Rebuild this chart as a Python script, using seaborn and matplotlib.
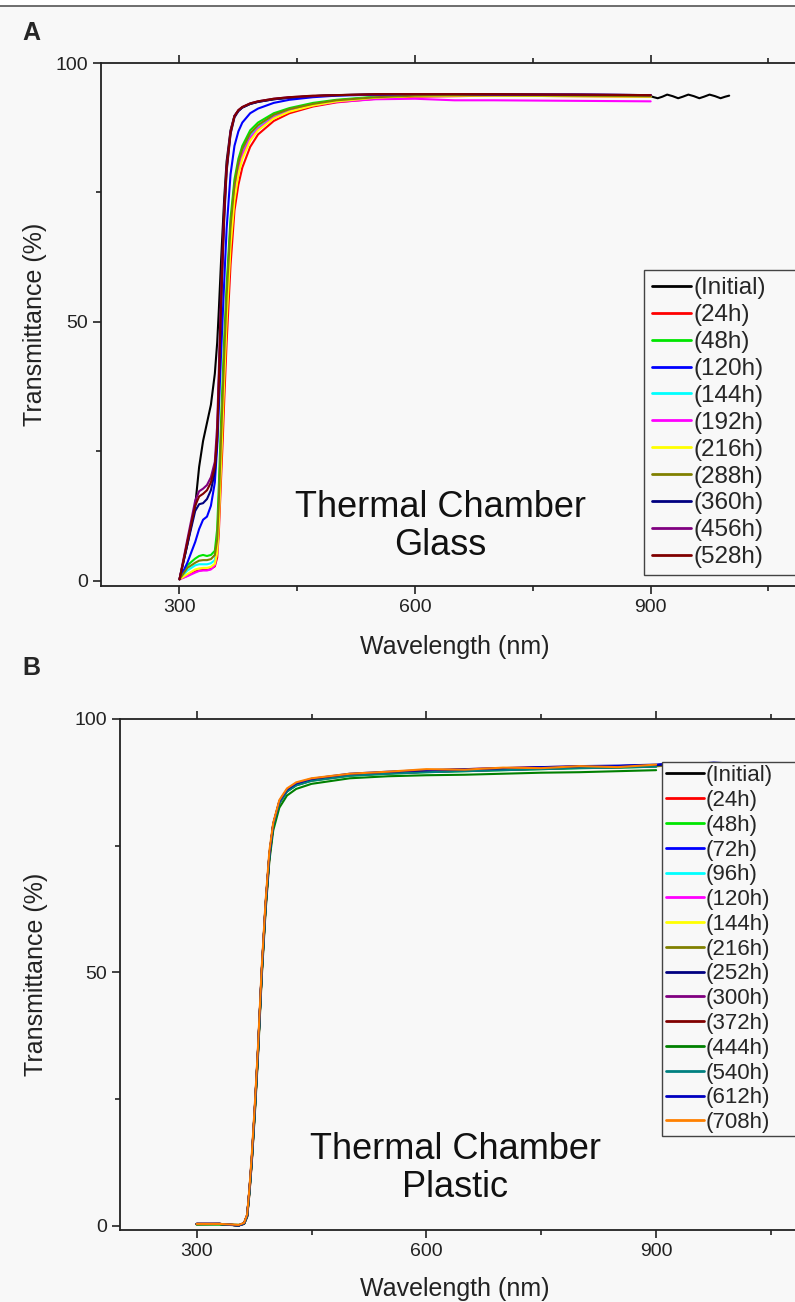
import matplotlib
matplotlib.use("Agg")
import numpy as np
import pandas as pd
import matplotlib.pyplot as plt
import seaborn as sns
from matplotlib.lines import Line2D
from matplotlib.patches import Rectangle

# ---------------- Panel A (Glass) data ----------------
wl_a = [300, 310, 320, 325, 330, 335, 340, 345, 348, 350, 353, 355, 357, 360, 365,
        370, 375, 380, 390, 400, 420, 440, 470, 500, 550, 600, 650, 700, 800, 900]
initial_a = [0.3, 7, 14.5, 22, 27, 30.5, 34, 40, 46, 52, 62, 68, 74, 81, 87,
             89.8, 90.8, 91.4, 92.1, 92.5, 93.0, 93.3, 93.6, 93.8, 93.9, 94.0, 94.0, 93.9, 93.8, 93.6]
initial_a_tail_wl = [904, 909, 915, 921, 928, 935, 941, 948, 955, 962, 968, 975, 982, 989, 995, 1000]
initial_a_tail = [93.4, 93.2, 93.5, 93.9, 93.6, 93.2, 93.5, 93.9, 93.6, 93.2, 93.5, 93.9, 93.6, 93.2, 93.5, 93.7]
h24_a = [0.3, 1.0, 1.8, 2.0, 2.1, 2.1, 2.3, 2.8, 4.5, 9, 20, 27, 35, 46, 61,
         71.5, 76.5, 79.8, 83.8, 86.2, 88.8, 90.3, 91.6, 92.4, 93.1, 93.5, 93.6, 93.7, 93.6, 93.5]
h48_a = [0.3, 3.0, 4.3, 4.8, 5.0, 4.8, 5.0, 5.8, 10, 18, 31, 39, 47, 57, 70,
         77.5, 81.5, 84.0, 87.0, 88.5, 90.3, 91.3, 92.3, 92.9, 93.5, 93.8, 93.9, 93.9, 93.8, 93.7]
h120_a = [0.3, 3.5, 7.5, 10, 11.8, 12.4, 14.5, 19, 26, 33, 44, 51, 58, 68, 78.5,
          84, 86.8, 88.5, 90.3, 91.2, 92.3, 92.9, 93.4, 93.7, 93.9, 93.9, 94.0, 93.9, 93.9, 93.8]
h144_a = [0.3, 2.0, 3.0, 3.2, 3.2, 3.2, 3.4, 4.0, 7, 13, 26, 34, 42, 53, 67,
          75.5, 80.0, 82.8, 85.9, 87.6, 89.7, 90.9, 92.0, 92.7, 93.4, 93.7, 93.8, 93.8, 93.7, 93.6]
h192_a = [0.3, 0.9, 1.6, 1.9, 2.0, 2.0, 2.2, 3.0, 5.5, 12, 25, 33, 41, 52, 66,
          75, 79.5, 82.3, 85.5, 87.3, 89.5, 90.7, 91.8, 92.5, 93.0, 93.1, 92.8, 92.8, 92.7, 92.6]
h216_a = [0.3, 1.3, 2.2, 2.4, 2.5, 2.5, 2.7, 3.3, 5.5, 11, 23, 31, 39, 50, 64.5,
          73.5, 78.5, 81.5, 85.0, 87.0, 89.3, 90.6, 91.8, 92.6, 93.3, 93.6, 93.7, 93.7, 93.6, 93.5]
h288_a = [0.3, 2.5, 3.5, 3.9, 4.0, 4.0, 4.2, 5.0, 8, 15, 28, 36, 44, 55, 68.5,
          76.5, 80.8, 83.4, 86.4, 88.0, 90.0, 91.1, 92.1, 92.8, 93.4, 93.7, 93.8, 93.8, 93.7, 93.6]
h360_a = [0.3, 7.0, 13.5, 14.8, 15.0, 15.8, 17.5, 21, 27, 37, 53, 62, 70, 79, 86.3,
          89.5, 90.7, 91.4, 92.1, 92.5, 93.0, 93.3, 93.6, 93.8, 93.9, 94.0, 94.0, 93.9, 93.9, 93.8]
h456_a = [0.3, 8.0, 15.5, 17.3, 17.8, 18.5, 20.0, 23, 30, 40, 56, 64, 72, 80, 86.8,
          89.8, 90.9, 91.5, 92.2, 92.6, 93.1, 93.4, 93.6, 93.8, 93.9, 94.0, 94.0, 93.9, 93.9, 93.8]
h528_a = [0.3, 7.5, 14.5, 16.3, 16.8, 17.5, 19.0, 22, 28, 38, 54, 63, 71, 79.5, 86.5,
          89.7, 90.9, 91.5, 92.2, 92.6, 93.1, 93.4, 93.7, 93.8, 94.0, 94.0, 94.0, 94.0, 93.9, 93.8]

labels_a = ["(Initial)", "(24h)", "(48h)", "(120h)", "(144h)", "(192h)", "(216h)",
            "(288h)", "(360h)", "(456h)", "(528h)"]
colors_a = ["#000000", "#ff0000", "#00e600", "#0000ff", "#00ffff", "#ff00ff", "#ffff00",
            "#808000", "#000080", "#800080", "#800000"]

# ---------------- Panel B (Plastic) data ----------------
wl_b = [300, 330, 355, 362, 366, 369, 372, 376, 380, 385, 390, 395, 400, 408, 418,
        430, 450, 500, 550, 600, 650, 700, 750, 800, 850, 900]
wl_b_ext = [925, 950, 975, 1000]
initial_b = [0.4, 0.4, 0.1, 0.5, 2.0, 7.0, 13, 23, 34, 50, 63, 73, 79, 83.5, 85.8,
             87.0, 87.9, 88.9, 89.3, 89.6, 89.8, 90.0, 90.2, 90.4, 90.5, 90.7]
initial_b_ext = [90.8, 91.0, 90.9, 91.1]
h24_b = [0.3, 0.4, 0.1, 0.4, 1.8, 6.5, 12.5, 22.5, 33.5, 49.5, 62.5, 72.5, 78.8, 83.4, 85.9,
         87.1, 88.0, 89.0, 89.5, 89.8, 90.1, 90.3, 90.5, 90.6, 90.7, 90.8]
h48_b = [0.4, 0.3, 0.2, 0.5, 2.0, 7.0, 13, 23, 34, 50, 63, 73, 79, 83.4, 85.7,
         86.9, 87.8, 88.8, 89.2, 89.5, 89.7, 89.9, 90.1, 90.3, 90.4, 90.6]
h72_b = [0.4, 0.4, 0.2, 0.5, 2.1, 7.2, 13.2, 23.2, 34.2, 50.2, 63.2, 73.2, 79.2, 83.7, 86.0,
         87.2, 88.1, 89.1, 89.5, 89.8, 90.0, 90.2, 90.4, 90.6, 90.7, 90.9]
h72_b_ext = [91.2, 91.0, 91.3, 91.1]
h96_b = [0.3, 0.4, 0.1, 0.5, 2.0, 7.0, 13, 23, 34, 50, 63, 73, 79, 83.5, 85.9,
         87.1, 88.0, 89.0, 89.4, 89.7, 89.9, 90.1, 90.3, 90.5, 90.6, 90.8]
h96_b_ext = [91.0, 90.8, 91.1, 91.0]
h120_b = [0.4, 0.4, 0.1, 0.5, 1.9, 6.8, 12.8, 22.8, 33.8, 49.8, 62.8, 72.8, 78.9, 83.4, 85.8,
          87.0, 87.9, 88.9, 89.3, 89.6, 89.8, 90.0, 90.2, 90.4, 90.6, 90.8]
h120_b_ext = [90.6, 91.1, 90.7, 91.2]
h144_b = [0.4, 0.4, 0.2, 0.5, 2.0, 7.0, 13, 23, 34, 50, 63, 73, 79, 83.5, 85.8,
          87.0, 87.9, 88.9, 89.4, 89.7, 89.9, 90.1, 90.3, 90.4, 90.6, 90.7]
h216_b = [0.3, 0.4, 0.1, 0.5, 2.0, 7.0, 13, 23, 34, 50, 63, 73, 79, 83.5, 85.8,
          87.0, 87.9, 88.9, 89.3, 89.6, 89.8, 90.0, 90.2, 90.4, 90.5, 90.7]
h216_b_ext = [90.9, 91.0, 91.0, 91.1]
h252_b = [0.4, 0.4, 0.1, 0.5, 2.1, 7.1, 13.1, 23.1, 34.1, 50.1, 63.1, 73.1, 79.1, 83.6, 86.0,
          87.2, 88.1, 89.1, 89.5, 89.8, 90.0, 90.2, 90.4, 90.6, 90.7, 90.9]
h252_b_ext = [91.1, 91.2, 91.0, 91.2]
h300_b = [0.4, 0.4, 0.1, 0.5, 2.0, 7.0, 13, 23, 34, 50, 63, 73, 79, 83.5, 85.8,
          87.0, 87.9, 88.9, 89.3, 89.6, 89.8, 90.0, 90.2, 90.4, 90.5, 90.7]
h372_b = [0.4, 0.4, 0.1, 0.6, 2.2, 7.3, 13.5, 23.5, 34.5, 50.5, 63.5, 73.3, 79.2, 83.6, 85.9,
          87.1, 88.0, 89.0, 89.4, 89.7, 89.9, 90.1, 90.3, 90.5, 90.6, 90.8]
h444_b = [0.3, 0.3, 0.1, 0.4, 1.8, 6.5, 12.5, 22, 33, 49, 62, 72, 78, 82.5, 84.9,
          86.2, 87.2, 88.3, 88.7, 88.9, 89.0, 89.2, 89.4, 89.5, 89.7, 89.9]
h540_b = [0.4, 0.4, 0.1, 0.5, 2.0, 7.0, 13, 23, 34, 50, 63, 73, 79, 83.4, 85.7,
          86.9, 87.8, 88.8, 89.2, 89.5, 89.7, 89.9, 90.1, 90.3, 90.4, 90.6]
h612_b = [0.4, 0.4, 0.1, 0.5, 2.1, 7.2, 13.3, 23.3, 34.3, 50.3, 63.3, 73.3, 79.3, 83.8, 86.1,
          87.3, 88.2, 89.2, 89.6, 89.9, 90.1, 90.3, 90.5, 90.7, 90.8, 91.0]
h612_b_ext = [91.3, 91.1, 91.4, 91.2]
h708_b = [0.4, 0.4, 0.2, 0.6, 2.3, 7.5, 14, 24, 35, 51, 64, 74, 79.5, 84.0, 86.3,
          87.5, 88.3, 89.2, 89.6, 90.1, 90.0, 90.4, 90.3, 90.7, 90.5, 91.0]

labels_b = ["(Initial)", "(24h)", "(48h)", "(72h)", "(96h)", "(120h)", "(144h)", "(216h)",
            "(252h)", "(300h)", "(372h)", "(444h)", "(540h)", "(612h)", "(708h)"]
colors_b = ["#000000", "#ff0000", "#00e600", "#0000ff", "#00ffff", "#ff00ff", "#ffff00",
            "#808000", "#000080", "#800080", "#800000", "#008000", "#008080", "#0000c0", "#ff8000"]

# ---------------- figure ----------------
sns.set_style("ticks")
plt.rcParams["font.family"] = ["Liberation Sans", "DejaVu Sans"]
BG = "#f8f8f8"
INK = "#222222"

fig = plt.figure(figsize=(7.95, 13.02), dpi=100, facecolor=BG)
axA = fig.add_axes([0.127, 0.5499, 0.889, 0.4017])
axB = fig.add_axes([0.151, 0.0553, 0.867, 0.3925])

series_a = [
    (wl_a + initial_a_tail_wl, initial_a + initial_a_tail),
    (wl_a, h24_a), (wl_a, h48_a), (wl_a, h120_a), (wl_a, h144_a), (wl_a, h192_a),
    (wl_a, h216_a), (wl_a, h288_a), (wl_a, h360_a), (wl_a, h456_a), (wl_a, h528_a),
]
for (x, y), lab, c in zip(series_a, labels_a, colors_a):
    sns.lineplot(x=x, y=y, color=c, label=lab, ax=axA, lw=1.5, sort=False, estimator=None)

series_b = [
    (wl_b + wl_b_ext, initial_b + initial_b_ext),
    (wl_b, h24_b), (wl_b, h48_b),
    (wl_b + wl_b_ext, h72_b + h72_b_ext),
    (wl_b + wl_b_ext, h96_b + h96_b_ext),
    (wl_b + wl_b_ext, h120_b + h120_b_ext),
    (wl_b, h144_b),
    (wl_b + wl_b_ext, h216_b + h216_b_ext),
    (wl_b + wl_b_ext, h252_b + h252_b_ext),
    (wl_b, h300_b), (wl_b, h372_b), (wl_b, h444_b), (wl_b, h540_b),
    (wl_b + wl_b_ext, h612_b + h612_b_ext),
    (wl_b, h708_b),
]
for (x, y), lab, c in zip(series_b, labels_b, colors_b):
    sns.lineplot(x=x, y=y, color=c, label=lab, ax=axB, lw=1.5, sort=False, estimator=None)


def style(ax, ybottom):
    ax.set_facecolor(BG)
    ax.set_xlim(200, 1100)
    ax.set_ylim(ybottom, 100)
    ax.set_xticks([300, 600, 900])
    ax.set_xticks([450, 750, 1050], minor=True)
    ax.set_yticks([0, 50, 100])
    ax.set_yticks([25, 75], minor=True)
    ax.tick_params(which="both", direction="out", top=True, bottom=True, left=True,
                   right=False, labeltop=False, width=1.2, color=INK)
    ax.tick_params(which="major", length=6, labelsize=14, labelcolor=INK)
    ax.tick_params(which="minor", length=3.5)
    for s in ax.spines.values():
        s.set_linewidth(1.3)
        s.set_color(INK)
    ax.set_xlabel("Wavelength (nm)", fontsize=18, color=INK)
    ax.set_ylabel("Transmittance (%)", fontsize=18, color=INK)


style(axA, -1)
style(axB, -0.8)
axA.xaxis.set_label_coords(0.5, -0.093)
axA.yaxis.set_label_coords(-0.076, 0.5)
axB.xaxis.set_label_coords(0.486, -0.091)
axB.yaxis.set_label_coords(-0.105, 0.5)

legA = axA.legend(loc="upper left", bbox_to_anchor=(0.769, 0.0, 0.3, 0.604), mode="expand",
                  borderaxespad=0, fontsize=17.5, frameon=True, fancybox=False,
                  edgecolor="#444444", facecolor=BG, framealpha=1, handlelength=1.6,
                  handletextpad=0.12, labelspacing=0.2, borderpad=0.3)
legA.get_frame().set_linewidth(1.0)
for h in legA.get_lines():
    h.set_linewidth(2.0)

legB = axB.legend(loc="upper left", bbox_to_anchor=(0.787, 0.0, 0.3, 0.916), mode="expand",
                  borderaxespad=0, fontsize=16, frameon=True, fancybox=False,
                  edgecolor="#444444", facecolor=BG, framealpha=1, handlelength=1.7,
                  handletextpad=0.1, labelspacing=0.17, borderpad=0.15)
legB.get_frame().set_linewidth(1.0)
for h in legB.get_lines():
    h.set_linewidth(2.0)

axA.text(0.48, 0.114, "Thermal Chamber\nGlass", transform=axA.transAxes, ha="center",
         va="center", multialignment="center", fontsize=26, linespacing=1.1, color="#111111")
axB.text(0.486, 0.12, "Thermal Chamber\nPlastic", transform=axB.transAxes, ha="center",
         va="center", multialignment="center", fontsize=26, linespacing=1.1, color="#111111")

fig.text(22 / 795, 1 - 33 / 1302, "A", fontsize=18, fontweight="bold", va="center", ha="left")
fig.text(22 / 795, 1 - 668 / 1302, "B", fontsize=18, fontweight="bold", va="center", ha="left")

fig.add_artist(Rectangle((0, 1 - 6 / 1302), 1, 6 / 1302, transform=fig.transFigure,
                         facecolor="white", edgecolor="none"))
fig.add_artist(Line2D([0, 1], [1 - 6 / 1302, 1 - 6 / 1302], transform=fig.transFigure,
                      color="#555555", lw=1.2))

fig.savefig("out.png", dpi=100, facecolor=BG)
